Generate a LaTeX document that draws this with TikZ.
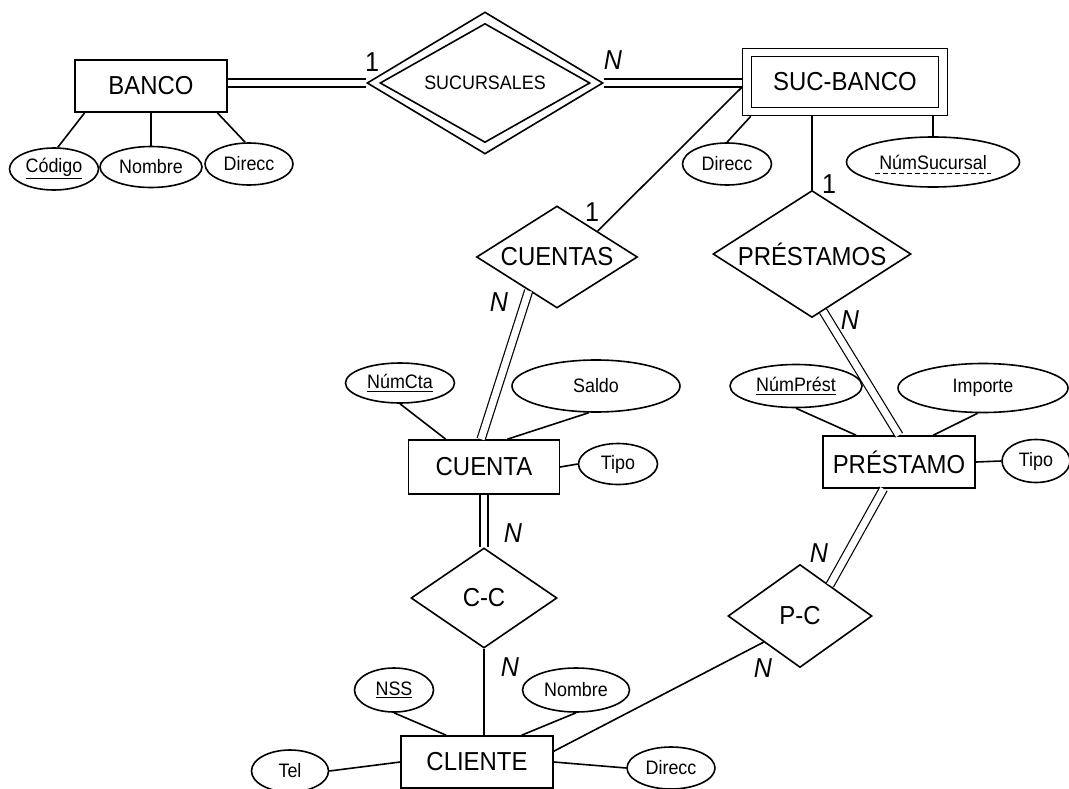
\documentclass[tikz,border=0pt]{standalone}
\usepackage{fontspec}
\setmainfont{Liberation Sans}[FakeStretch=0.92]
\usepackage{tikz}
\usetikzlibrary{shapes.geometric}

\begin{document}
\begin{tikzpicture}[x=0.75pt,y=0.75pt,yscale=-1,line width=1.2pt,
    entity/.style={draw, rectangle, inner sep=0pt, font=\fontsize{19.5}{22}\selectfont},
    rel/.style={draw, diamond, aspect=1.6, inner sep=0pt, font=\fontsize{19.5}{22}\selectfont},
    attrib/.style={draw, ellipse, inner sep=0pt, font=\fontsize{14.6}{17}\selectfont},
    card/.style={inner sep=0pt, font=\fontsize{20.5}{23}\selectfont},
    total/.style={double, line width=0.9pt, double distance=5.2pt}]
    \useasboundingbox (0,0) rectangle (1069,788);

    %Shape: Rectangle [BANCO]
    \node[entity, minimum width=114pt, minimum height=39pt] (banco) at (151,86) {BANCO};
    %Shape: Rectangle [SUC-BANCO, weak]
    \node[entity, minimum width=153.75pt, minimum height=50.25pt] (sucbanco) at (845,82) {};
    \node[entity, minimum width=140pt, minimum height=38.25pt] (sucbancoin) at (845,82) {SUC-BANCO};
    %Shape: Rectangle [CUENTA]
    \node[entity, minimum width=113pt, minimum height=40.5pt] (cuenta) at (484,467) {CUENTA};
    %Shape: Rectangle [PRESTAMO]
    \node[entity, minimum width=114pt, minimum height=39pt] (prestamo) at (899,462) {PRÉSTAMO};
    %Shape: Rectangle [CLIENTE]
    \node[entity, minimum width=114pt, minimum height=39pt] (cliente) at (477,762) {CLIENTE};

    %Shape: Diamond [SUCURSALES, weak]
    \node[rel, minimum width=177pt, minimum height=106.5pt] (sucursales) at (485,83) {};
    \node[rel, aspect=1.76, minimum width=157.5pt, minimum height=89.25pt, font=\fontsize{14.6}{17}\selectfont] (sucursalesin) at (485,83) {SUCURSALES};
    %Shape: Diamond [CUENTAS]
    \node[rel, minimum width=120.75pt, minimum height=76.5pt] (cuentas) at (557,257) {CUENTAS};
    %Shape: Diamond [PRESTAMOS]
    \node[rel, minimum width=148.5pt, minimum height=95.25pt] (prestamos) at (812,254) {PRÉSTAMOS};
    %Shape: Diamond [C-C]
    \node[rel, minimum width=109.5pt, minimum height=75pt] (cc) at (484,598) {C-C};
    %Shape: Diamond [P-C]
    \node[rel, minimum width=108pt, minimum height=77.25pt] (pc) at (800,616) {P-C};

    %Shape: Ellipse [attributes]
    \node[attrib, minimum width=66.75pt, minimum height=31.5pt] (codigo) at (54,169) {\underline{Código}};
    \node[attrib, minimum width=76.5pt, minimum height=30.75pt] (nombrebanco) at (151,167) {Nombre};
    \node[attrib, minimum width=66pt, minimum height=31.5pt] (direccbanco) at (249,164) {Direcc};
    \node[attrib, minimum width=66.75pt, minimum height=31.5pt] (direccsuc) at (727,164) {Direcc};
    \node[attrib, minimum width=129.75pt, minimum height=37.5pt] (numsuc) at (933,162) {};
    \node[inner sep=2.5pt, font=\fontsize{14.6}{17}\selectfont] (numsuctxt) at (933,162) {NúmSucursal};
    \node[attrib, minimum width=81.75pt, minimum height=30pt] (numcta) at (400,383) {\underline{NúmCta}};
    \node[attrib, minimum width=126pt, minimum height=39pt] (saldo) at (596,386) {Saldo};
    \node[attrib, minimum width=59.25pt, minimum height=30.75pt] (tipocta) at (618,464) {Tipo};
    \node[attrib, minimum width=99pt, minimum height=32.25pt] (numprest) at (796,386) {\underline{NúmPrést}};
    \node[attrib, minimum width=127.5pt, minimum height=36.75pt] (importe) at (983,388) {Importe};
    \node[attrib, minimum width=51pt, minimum height=32.25pt] (tipoprest) at (1036,461) {Tipo};
    \node[attrib, minimum width=59.25pt, minimum height=33pt] (nss) at (394,690) {\underline{NSS}};
    \node[attrib, minimum width=80.25pt, minimum height=33pt] (nombrecli) at (576,690) {Nombre};
    \node[attrib, minimum width=57.75pt, minimum height=31.5pt] (tel) at (290,771) {Tel};
    \node[attrib, minimum width=66pt, minimum height=31.5pt] (direcccli) at (671,768) {Direcc};

    %Straight Lines [attributes]
    \draw[line width=0.8pt, dash pattern=on 4pt off 2pt] (numsuctxt.south west) -- (numsuctxt.south east);
    \draw (banco.202) -- (codigo.80);
    \draw (banco.south) -- (nombrebanco.north);
    \draw (banco.338) -- (direccbanco.100);
    \draw (sucbanco.200) -- (direccsuc.north);
    \draw[line width=2pt] (numsuc.north |- sucbanco.south) -- (numsuc.north);
    \draw (cuenta.144) -- (numcta.south);
    \draw (cuenta.50) -- (saldo.255);
    \draw (cuenta.east) -- (tipocta.west);
    \draw (prestamo.148) -- (numprest.south);
    \draw (prestamo.38) -- (importe.258);
    \draw (prestamo.east) -- (tipoprest.west);
    \draw (cliente.139) -- (nss.south);
    \draw (cliente.31) -- (nombrecli.south);
    \draw (cliente.west) -- (tel.east);
    \draw (cliente.east) -- (direcccli.west);

    %Straight Lines [relationships]
    \draw[total] (sucursales.west) -- (sucursales.west -| banco.east);
    \draw[total] (sucursales.east) -- (sucursales.east -| sucbanco.west);
    \draw (sucbanco.183) -- (cuentas.north east);
    \draw (prestamos.north |- sucbanco.south) -- (prestamos.north);
    \draw[total] (cuentas.230) -- (cuenta.96);
    \draw[total] (prestamos.281) -- (prestamo.north);
    \draw[total] (cuenta.south) -- (cc.north);
    \draw (cc.south) -- (cc.south |- cliente.north);
    \draw[total] (prestamo.240) -- (pc.46);
    \draw (cliente.8) -- (pc.south west);

    % Text Node [cardinalities]
    \node[card] (cardsuca) at (372,62) {1};
    \node[card] (cardsucb) at (613,60) {\textit{N}};
    \node[card] (cardctaa) at (592,212) {1};
    \node[card] (cardctab) at (499,302) {\textit{N}};
    \node[card] (cardprea) at (829,184) {1};
    \node[card] (cardpreb) at (850,320) {\textit{N}};
    \node[card] (cardcca) at (513,533) {\textit{N}};
    \node[card] (cardccb) at (510,667) {\textit{N}};
    \node[card] (cardpca) at (819,553) {\textit{N}};
    \node[card] (cardpcb) at (763,668) {\textit{N}};

\end{tikzpicture}
\end{document}
